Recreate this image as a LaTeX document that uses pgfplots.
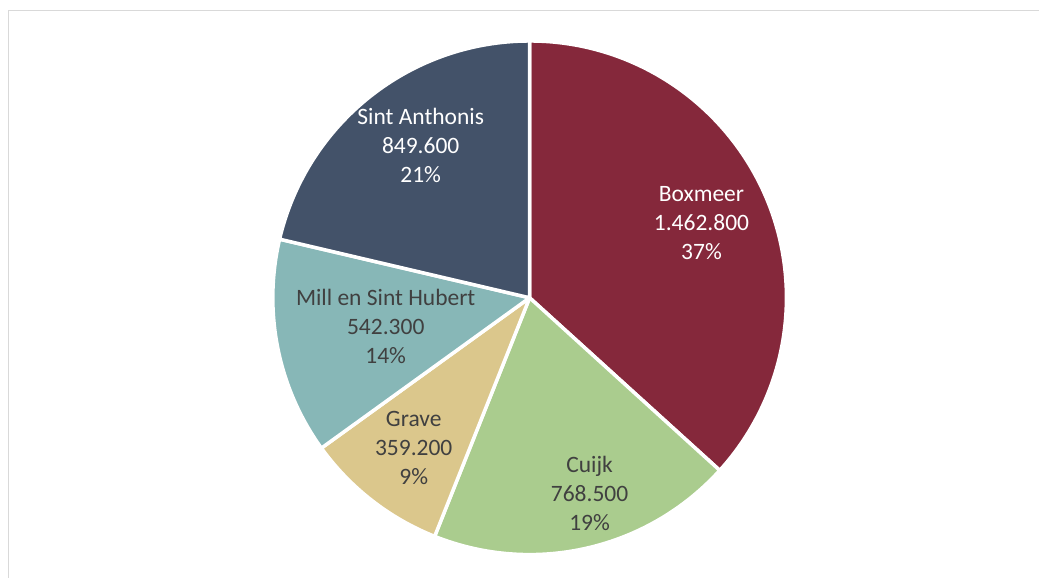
\documentclass[border=0pt]{standalone}
\usepackage{fontspec}
\setmainfont{Carlito}
\usepackage{xcolor}
\usepackage{pgfplots}
\usepackage{pgfplotstable}
\pgfplotsset{compat=1.18}

\definecolor{cBox}{HTML}{85283B}
\definecolor{cCui}{HTML}{AACC8E}
\definecolor{cGra}{HTML}{DBC78C}
\definecolor{cMil}{HTML}{87B7B7}
\definecolor{cSin}{HTML}{435269}
\definecolor{txt}{HTML}{404040}
\definecolor{frame}{HTML}{D9D9D9}

\pgfplotstableread{
name value
Boxmeer 1462.8
Cuijk 768.5
Grave 359.2
Mill 542.3
Sint 849.6
}\piedata

% slice angles, clockwise from 12 o'clock
\pgfplotstablegetelem{0}{value}\of\piedata \let\vA\pgfplotsretval
\pgfplotstablegetelem{1}{value}\of\piedata \let\vB\pgfplotsretval
\pgfplotstablegetelem{2}{value}\of\piedata \let\vC\pgfplotsretval
\pgfplotstablegetelem{3}{value}\of\piedata \let\vD\pgfplotsretval
\pgfplotstablegetelem{4}{value}\of\piedata \let\vE\pgfplotsretval
\pgfmathsetmacro\total{\vA+\vB+\vC+\vD+\vE}
\pgfmathsetmacro\aA{90}
\pgfmathsetmacro\aB{\aA-360*(\vA/\total)}
\pgfmathsetmacro\aC{\aB-360*(\vB/\total)}
\pgfmathsetmacro\aD{\aC-360*(\vC/\total)}
\pgfmathsetmacro\aE{\aD-360*(\vD/\total)}
\pgfmathsetmacro\aF{\aE-360*(\vE/\total)}

\begin{document}
\begin{tikzpicture}
\begin{axis}[
    width=1040pt, height=578pt,
    scale only axis, hide axis, clip=false,
    xmin=0, xmax=1040, ymin=0, ymax=578,
]
\path (axis cs:0,0) rectangle (axis cs:1040,578);
\draw[frame, line width=1.5pt] (axis cs:8.5,0) -- (axis cs:8.5,567.5) -- (axis cs:1040,567.5);

\def\wedge#1#2#3{\fill[#1, draw=white, line width=3.5pt, line join=round]
    (axis cs:530,280) -- ++(#2:257pt) arc[start angle=#2, end angle=#3, radius=257pt] -- cycle;}
\wedge{cBox}{\aA}{\aB}
\wedge{cCui}{\aB}{\aC}
\wedge{cGra}{\aC}{\aD}
\wedge{cMil}{\aD}{\aE}
\wedge{cSin}{\aE}{\aF}

\tikzset{lbl/.style={align=center, font=\fontsize{23.5}{29}\selectfont, inner sep=0pt}}
\node[lbl, white] at (axis cs:702,355) {Boxmeer\\1.462.800\\37\%};
\node[lbl, txt] at (axis cs:590,84) {Cuijk\\768.500\\19\%};
\node[lbl, txt] at (axis cs:414,130) {Grave\\359.200\\9\%};
\node[lbl, txt] at (axis cs:386,251) {Mill en Sint Hubert\\542.300\\14\%};
\node[lbl, white] at (axis cs:421,432) {Sint Anthonis\\849.600\\21\%};
\end{axis}
\end{tikzpicture}
\end{document}
